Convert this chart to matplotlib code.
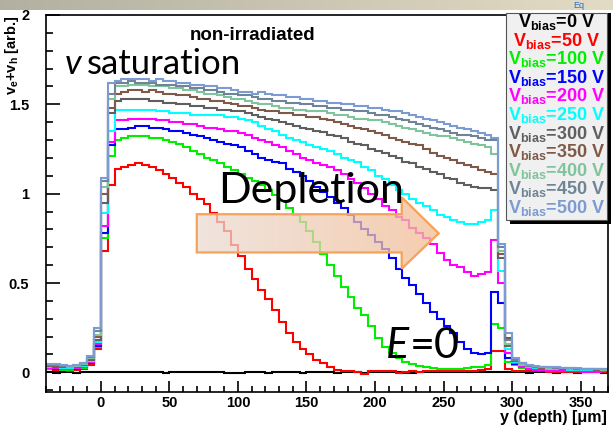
import numpy as np
import matplotlib
matplotlib.use('Agg')
import matplotlib.pyplot as plt
from matplotlib.patches import Polygon, Rectangle
from matplotlib.ticker import MultipleLocator, FuncFormatter

plt.rcParams['mathtext.fontset'] = 'custom'
plt.rcParams['mathtext.rm'] = 'Liberation Sans:bold'
plt.rcParams['mathtext.it'] = 'Liberation Sans:bold:italic'
plt.rcParams['mathtext.bf'] = 'Liberation Sans:bold'

# 5 um bins from -40 to 370 um
edges = np.arange(-40, 371, 5)

biases = [0, 50, 100, 150, 200, 250, 300, 350, 400, 450, 500]
colors = ['#000000', '#ff0000', '#00ee00', '#0000ff', '#ff00ff', '#00ffff',
          '#5f5f5f', '#7f5a48', '#7fc49c', '#6f8496', '#7b9bd2']

# v_e + v_h per bin; left tail (8), sensor 0-300 um (60), right tail (14)
v000 = [0.0, -0.002, 0.003, 0.0, -0.003, 0.002, 0.0, 0.004,
        0.003, 0.002, 0.004, 0.001, 0.003, 0.0, 0.002, 0.003, 0.001, -0.002,
        0.0, 0.002, 0.004, 0.003, 0.0, 0.001, 0.003, 0.002, -0.003, -0.006,
        -0.004, 0.0, 0.002, 0.001, -0.002, 0.0, 0.002, 0.001, 0.0, -0.002,
        0.0, 0.003, 0.002, 0.0, -0.001, 0.001, 0.002, 0.0, -0.002, 0.0,
        0.001, 0.003, 0.001, 0.0, -0.002, -0.001, 0.0, 0.002, 0.001, 0.0,
        0.001, 0.002, 0.0, 0.001, 0.003, 0.002, 0.001, 0.0, 0.003, 0.004,
        0.002, 0.0, -0.002, 0.001, 0.0, 0.002, -0.001, 0.0, 0.001, -0.002,
        0.0, 0.001, 0.0, -0.001]
v050 = [0.02, 0.015, 0.015, 0.01, 0.015, 0.02, 0.04, 0.13,
        0.68, 1.05, 1.14, 1.15, 1.16, 1.17, 1.16, 1.15, 1.13, 1.11,
        1.09, 1.06, 1.04, 1.00, 0.97, 0.94, 0.89, 0.84, 0.79, 0.71,
        0.65, 0.58, 0.52, 0.46, 0.41, 0.35, 0.28, 0.22, 0.17, 0.13,
        0.10, 0.07, 0.05, 0.03, 0.015, 0.01, 0.008, 0.0, -0.01, 0.005,
        0.01, 0.01, 0.005, -0.005, 0.0, 0.005, 0.0, 0.005, 0.005, 0.005,
        0.005, 0.008, 0.01, 0.01, 0.01, 0.015, 0.02, 0.12, 0.12, 0.02,
        0.01, 0.008, 0.006, 0.005, 0.005, 0.004, 0.004, 0.003, 0.003, 0.003,
        0.002, 0.002, 0.002, 0.002]
v100 = [0.02, 0.02, 0.015, 0.015, 0.02, 0.025, 0.05, 0.14,
        0.75, 1.21, 1.30, 1.31, 1.32, 1.32, 1.32, 1.31, 1.31, 1.30,
        1.29, 1.28, 1.26, 1.24, 1.22, 1.20, 1.19, 1.17, 1.15, 1.13,
        1.11, 1.09, 1.07, 1.05, 1.02, 0.99, 0.96, 0.92, 0.88, 0.84,
        0.79, 0.73, 0.66, 0.60, 0.54, 0.48, 0.42, 0.36, 0.32, 0.26,
        0.19, 0.14, 0.11, 0.08, 0.06, 0.045, 0.035, 0.03, 0.025, 0.02,
        0.02, 0.02, 0.02, 0.025, 0.03, 0.03, 0.04, 0.27, 0.25, 0.06,
        0.04, 0.025, 0.018, 0.014, 0.012, 0.01, 0.01, 0.008, 0.008, 0.007,
        0.006, 0.006, 0.005, 0.005]
v150 = [0.025, 0.02, 0.02, 0.02, 0.02, 0.03, 0.055, 0.15,
        0.78, 1.27, 1.36, 1.36, 1.37, 1.38, 1.38, 1.37, 1.37, 1.36,
        1.35, 1.35, 1.34, 1.33, 1.32, 1.31, 1.30, 1.29, 1.28, 1.27,
        1.26, 1.24, 1.22, 1.20, 1.19, 1.18, 1.17, 1.14, 1.12, 1.10,
        1.07, 1.04, 1.01, 0.98, 0.95, 0.92, 0.88, 0.84, 0.80, 0.77,
        0.73, 0.69, 0.64, 0.58, 0.53, 0.49, 0.44, 0.39, 0.34, 0.30,
        0.26, 0.22, 0.17, 0.13, 0.11, 0.105, 0.11, 0.45, 0.39, 0.08,
        0.045, 0.028, 0.02, 0.015, 0.012, 0.01, 0.01, 0.008, 0.008, 0.007,
        0.006, 0.006, 0.006, 0.005]
v200 = [0.025, 0.025, 0.02, 0.02, 0.025, 0.03, 0.06, 0.16,
        0.82, 1.29, 1.41, 1.41, 1.42, 1.42, 1.42, 1.42, 1.41, 1.41,
        1.40, 1.40, 1.39, 1.39, 1.38, 1.37, 1.37, 1.36, 1.35, 1.35,
        1.34, 1.33, 1.31, 1.30, 1.29, 1.27, 1.26, 1.24, 1.22, 1.20,
        1.19, 1.17, 1.16, 1.15, 1.13, 1.11, 1.08, 1.06, 1.03, 1.00,
        0.97, 0.93, 0.91, 0.87, 0.85, 0.81, 0.78, 0.75, 0.72, 0.67,
        0.63, 0.60, 0.59, 0.56, 0.54, 0.55, 0.56, 0.74, 0.50, 0.11,
        0.05, 0.03, 0.02, 0.015, 0.012, 0.01, 0.008, 0.008, 0.005, 0.005,
        0.004, 0.003, 0.003, 0.005]
v250 = [0.03, 0.03, 0.025, 0.025, 0.03, 0.035, 0.065, 0.17,
        0.89, 1.35, 1.47, 1.47, 1.47, 1.47, 1.47, 1.47, 1.46, 1.46,
        1.45, 1.45, 1.45, 1.44, 1.44, 1.44, 1.44, 1.44, 1.43, 1.43,
        1.42, 1.41, 1.40, 1.38, 1.36, 1.35, 1.33, 1.31, 1.30, 1.29,
        1.27, 1.26, 1.25, 1.24, 1.22, 1.20, 1.19, 1.18, 1.15, 1.13,
        1.10, 1.08, 1.05, 1.02, 1.00, 0.97, 0.95, 0.93, 0.91, 0.88,
        0.87, 0.85, 0.84, 0.83, 0.83, 0.84, 0.85, 0.91, 0.57, 0.13,
        0.06, 0.04, 0.03, 0.025, 0.022, 0.02, 0.018, 0.018, 0.015, 0.015,
        0.015, 0.012, 0.012, 0.012]
v300 = [0.035, 0.03, 0.03, 0.03, 0.03, 0.04, 0.07, 0.18,
        0.95, 1.45, 1.52, 1.53, 1.53, 1.53, 1.53, 1.52, 1.52, 1.51,
        1.51, 1.50, 1.50, 1.49, 1.49, 1.48, 1.48, 1.47, 1.47, 1.46,
        1.46, 1.45, 1.44, 1.43, 1.42, 1.41, 1.40, 1.39, 1.38, 1.37,
        1.36, 1.35, 1.345, 1.33, 1.32, 1.31, 1.29, 1.28, 1.27, 1.25,
        1.24, 1.23, 1.21, 1.20, 1.18, 1.17, 1.15, 1.14, 1.12, 1.11,
        1.09, 1.08, 1.06, 1.05, 1.04, 1.03, 1.03, 1.02, 0.64, 0.19,
        0.07, 0.05, 0.038, 0.032, 0.028, 0.025, 0.025, 0.022, 0.022, 0.02,
        0.02, 0.018, 0.018, 0.016]
v350 = [0.035, 0.035, 0.03, 0.03, 0.035, 0.04, 0.075, 0.20,
        1.00, 1.48, 1.56, 1.57, 1.58, 1.58, 1.57, 1.58, 1.57, 1.56,
        1.56, 1.55, 1.55, 1.54, 1.53, 1.53, 1.52, 1.52, 1.51, 1.50,
        1.49, 1.49, 1.48, 1.47, 1.46, 1.46, 1.45, 1.45, 1.44, 1.44,
        1.43, 1.43, 1.42, 1.41, 1.40, 1.39, 1.38, 1.37, 1.36, 1.35,
        1.34, 1.33, 1.31, 1.30, 1.29, 1.28, 1.27, 1.25, 1.23, 1.21,
        1.20, 1.19, 1.17, 1.16, 1.15, 1.13, 1.12, 1.11, 0.66, 0.15,
        0.065, 0.045, 0.035, 0.03, 0.027, 0.025, 0.022, 0.02, 0.02, 0.02,
        0.018, 0.018, 0.015, 0.015]
v400 = [0.04, 0.04, 0.035, 0.03, 0.035, 0.045, 0.08, 0.21,
        1.04, 1.53, 1.60, 1.60, 1.61, 1.61, 1.61, 1.60, 1.60, 1.60,
        1.59, 1.59, 1.58, 1.58, 1.57, 1.56, 1.56, 1.55, 1.54, 1.53,
        1.53, 1.52, 1.51, 1.50, 1.50, 1.49, 1.48, 1.48, 1.47, 1.47,
        1.46, 1.46, 1.46, 1.45, 1.44, 1.44, 1.43, 1.42, 1.42, 1.41,
        1.41, 1.40, 1.39, 1.38, 1.37, 1.36, 1.35, 1.34, 1.33, 1.32,
        1.32, 1.31, 1.30, 1.29, 1.28, 1.27, 1.26, 1.22, 0.68, 0.16,
        0.07, 0.045, 0.035, 0.03, 0.028, 0.025, 0.025, 0.022, 0.02, 0.02,
        0.02, 0.018, 0.018, 0.015]
v450 = [0.04, 0.04, 0.035, 0.035, 0.04, 0.05, 0.085, 0.23,
        1.07, 1.56, 1.62, 1.62, 1.63, 1.62, 1.62, 1.62, 1.61, 1.61,
        1.61, 1.60, 1.60, 1.59, 1.59, 1.58, 1.58, 1.57, 1.56, 1.56,
        1.55, 1.55, 1.54, 1.53, 1.53, 1.52, 1.52, 1.51, 1.51, 1.50,
        1.50, 1.49, 1.49, 1.48, 1.48, 1.47, 1.47, 1.46, 1.46, 1.45,
        1.44, 1.44, 1.43, 1.42, 1.41, 1.40, 1.39, 1.38, 1.37, 1.36,
        1.35, 1.34, 1.33, 1.33, 1.32, 1.31, 1.30, 1.30, 0.70, 0.18,
        0.07, 0.05, 0.038, 0.032, 0.03, 0.028, 0.025, 0.025, 0.022, 0.02,
        0.02, 0.02, 0.018, 0.018]
v500 = [0.045, 0.045, 0.04, 0.035, 0.04, 0.05, 0.09, 0.25,
        1.09, 1.62, 1.63, 1.64, 1.64, 1.64, 1.64, 1.63, 1.64, 1.63,
        1.63, 1.62, 1.62, 1.61, 1.61, 1.60, 1.60, 1.59, 1.59, 1.58,
        1.57, 1.57, 1.56, 1.57, 1.56, 1.55, 1.55, 1.54, 1.54, 1.53,
        1.53, 1.52, 1.52, 1.51, 1.51, 1.50, 1.50, 1.49, 1.49, 1.48,
        1.48, 1.47, 1.46, 1.46, 1.45, 1.44, 1.43, 1.42, 1.41, 1.40,
        1.39, 1.38, 1.37, 1.36, 1.35, 1.34, 1.33, 1.31, 0.72, 0.22,
        0.08, 0.05, 0.04, 0.035, 0.03, 0.03, 0.028, 0.025, 0.025, 0.022,
        0.02, 0.02, 0.02, 0.018]

curves = [v000, v050, v100, v150, v200, v250, v300, v350, v400, v450, v500]

W, H = 613, 426
fig = plt.figure(figsize=(W / 100, H / 100), dpi=100)

# slide header strip above the plot
band = fig.add_axes([0, 1 - 10 / H, 1, 10 / H])
grad = np.linspace(0, 1, 256)
c0 = np.array([0.70, 0.69, 0.63])
c1 = np.array([0.89, 0.86, 0.77])
band.imshow((c0 + (c1 - c0) * grad[:, None])[None, :, :], aspect='auto',
            extent=[0, 1, 0, 1])
band.axis('off')
band.text(0.945, 0.5, 'Eq', color='#2a6fd0', fontsize=6.5,
          family='Liberation Sans', ha='center', va='center',
          transform=band.transAxes)

ax = fig.add_axes([46 / W, 1 - 392 / H, (608 - 46) / W, (392 - 15) / H])

for vals, c in zip(curves, colors):
    ax.stairs(vals, edges, color=c, lw=1.5, baseline=None)

ax.xaxis.set_major_locator(MultipleLocator(50))
ax.xaxis.set_minor_locator(MultipleLocator(10))
ax.yaxis.set_major_locator(MultipleLocator(0.5))
ax.yaxis.set_minor_locator(MultipleLocator(0.1))
ax.yaxis.set_major_formatter(FuncFormatter(lambda v, p: '%g' % v))
ax.tick_params(which='both', direction='in', top=False, right=False,
               width=1.2, colors='black')
ax.tick_params(axis='y', which='major', length=10, pad=12)
ax.tick_params(axis='y', which='minor', length=5)
ax.tick_params(axis='x', which='major', length=8, pad=3)
ax.tick_params(axis='x', which='minor', length=4)
for lab in ax.get_xticklabels() + ax.get_yticklabels():
    lab.set_family('Liberation Sans')
    lab.set_fontweight('bold')
    lab.set_fontsize(10.5)
for s in ax.spines.values():
    s.set_linewidth(1.2)

fig.text(12 / W, 1 - 15 / H, r'$\mathrm{v}_{\mathrm{e}}\mathrm{+v}_{\mathrm{h}}$ [arb.]',
         rotation=90, ha='center', va='top', family='Liberation Sans',
         fontweight='bold', fontsize=10.5)
fig.text(607 / W, 1 - 422 / H, 'y (depth) [\u03bcm]', ha='right', va='baseline',
         family='Liberation Sans', fontweight='bold', fontsize=11.5)

# depletion arrow with a soft gradient fill
arrow_xy = [(70, 0.885), (219.5, 0.885), (219.5, 0.98), (246.5, 0.778),
            (219.5, 0.58), (219.5, 0.671), (70, 0.671)]
arrow = Polygon(arrow_xy, closed=True, facecolor='none', edgecolor='#f5a25a',
                lw=1.6, zorder=4)
ax.add_patch(arrow)
g = np.zeros((1, 256, 4))
ca = np.array([0.92, 0.86, 0.83])
cb = np.array([0.95, 0.74, 0.58])
g[0, :, :3] = ca + (cb - ca) * grad[:, None]
g[0, :, 3] = 0.75
img = ax.imshow(g, aspect='auto', extent=[70, 246.5, 0.58, 0.98], zorder=3,
                interpolation='bilinear')
img.set_clip_path(arrow)
ax.set_xlim(-40, 370)
ax.set_ylim(-0.11, 2.0)

# slide annotations
fig.text(190 / W, 1 - 40 / H, 'non-irradiated', family='Liberation Sans',
         fontweight='bold', fontsize=13.5, va='baseline')
fig.text(65 / W, 1 - 74 / H, 'v', family='Lato', style='italic', fontsize=25,
         va='baseline')
fig.text(87 / W, 1 - 74 / H, 'saturation', family='Lato', fontsize=25,
         va='baseline')
fig.text(218 / W, 1 - 203 / H, 'Depletion', family='Lato', fontsize=31,
         va='baseline', zorder=6)
fig.text(386 / W, 1 - 358 / H, 'E', family='Lato', style='italic', fontsize=31,
         va='baseline')
fig.text(410 / W, 1 - 358 / H, '=0', family='Lato', fontsize=31, va='baseline')

# legend box with shadow
fig.patches.append(Rectangle((510 / W, 1 - 224 / H), 101 / W, 211 / H,
                             transform=fig.transFigure, facecolor='black',
                             edgecolor='none', zorder=5))
fig.patches.append(Rectangle((506 / W, 1 - 220 / H), 101 / W, 207 / H,
                             transform=fig.transFigure, facecolor='#f0f0f0',
                             edgecolor='#555555', lw=0.8, zorder=6))
for k, (b, c) in enumerate(zip(biases, colors)):
    y = 27 + k * 18.6
    fig.text(557 / W, 1 - y / H, r'$\mathrm{V}_{\mathrm{bias}}$=%d V' % b,
             color=c, ha='center', va='baseline', family='Liberation Sans',
             fontweight='bold', fontsize=13, zorder=7)

fig.savefig('out.png', dpi=100)
